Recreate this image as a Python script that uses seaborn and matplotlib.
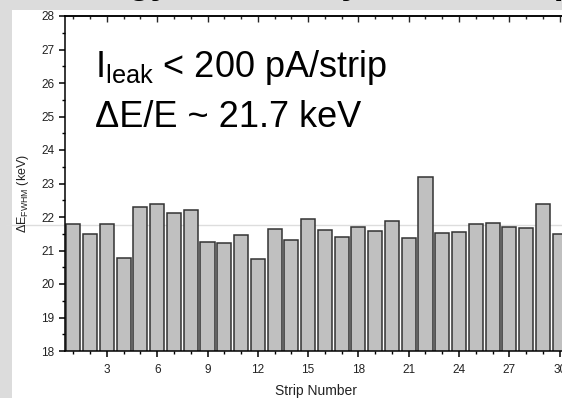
import matplotlib

matplotlib.use("Agg")
import matplotlib.pyplot as plt
import numpy as np
import pandas as pd
import seaborn as sns
from matplotlib.patches import Rectangle
from matplotlib.ticker import MultipleLocator

# strip-by-strip energy resolution (keV)
strips = list(range(1, 31))
fwhm_kev = [
    21.78, 21.50, 21.78, 20.79, 22.31, 22.38, 22.13, 22.22, 21.24, 21.21,
    21.45, 20.76, 21.63, 21.30, 21.93, 21.61, 21.39, 21.70, 21.57, 21.88,
    21.36, 23.19, 21.52, 21.56, 21.78, 21.81, 21.70, 21.68, 22.38, 21.48,
]
mean_level = 21.76
x_ticks = [3, 6, 9, 12, 15, 18, 21, 24, 27, 30]
annotation_lines = [r"I$_{\rm leak}$ < 200 pA/strip", "ΔE/E ~ 21.7 keV"]
slide_title = "Energy Uniformity across strips"

sns.set_theme(style="ticks")
plt.rcParams["font.family"] = ["Liberation Sans", "DejaVu Sans"]
plt.rcParams["mathtext.fontset"] = "custom"
plt.rcParams["mathtext.rm"] = "Liberation Sans"
plt.rcParams["mathtext.it"] = "Liberation Sans:italic"

df = pd.DataFrame({"strip": strips, "fwhm": fwhm_kev})

fig = plt.figure(figsize=(5.62, 3.98), dpi=100, facecolor="#dcdcdc")
# white slide panel
fig.patches.append(
    Rectangle((12 / 562, 0), 1, 1 - 10 / 398, transform=fig.transFigure,
              facecolor="white", edgecolor="none", zorder=-5)
)
# clipped slide title, only its descenders show
fig.text(1.06, 1 + 7 / 398, slide_title, ha="right", va="baseline",
         fontsize=26, fontweight="bold", color="black", zorder=-6)

ax = fig.add_axes([65 / 562, 47 / 398, 503 / 562, 335 / 398])
ax.set_facecolor("none")

ax.axhline(mean_level, xmin=-0.12, xmax=1.05, color="#dddddd", lw=1,
           clip_on=False, zorder=0)

sns.barplot(data=df, x="strip", y="fwhm", native_scale=True, width=0.84,
            color="#c0c0c0", saturation=1, edgecolor="#333333",
            linewidth=1.1, ax=ax, zorder=2)

ax.set_xlim(0.5, 30.5)
ax.set_ylim(18, 28)
ax.set_xticks(x_ticks)
ax.xaxis.set_minor_locator(MultipleLocator(1))
ax.yaxis.set_major_locator(MultipleLocator(1))
ax.yaxis.set_minor_locator(MultipleLocator(0.5))
ax.tick_params(axis="both", which="major", direction="out", length=4.5,
               width=1.1, color="black", labelsize=8.5, labelcolor="#222222", pad=3)
ax.tick_params(axis="x", which="major", pad=5)
ax.tick_params(axis="both", which="minor", direction="out", length=2.5,
               width=1.0, color="black")
for side in ["left", "bottom", "top"]:
    ax.spines[side].set_linewidth(1.1)
    ax.spines[side].set_color("black")
ax.spines["right"].set_visible(False)

top = ax.secondary_xaxis("top")
top.set_xticks(x_ticks)
top.xaxis.set_minor_locator(MultipleLocator(1))
top.tick_params(which="major", direction="in", length=4, width=1.0, labeltop=False)
top.tick_params(which="minor", direction="in", length=2.5, width=1.0)

ax.set_xlabel("Strip Number", fontsize=10, color="#222222")
ax.xaxis.set_label_coords(0.5, -0.098)
ax.set_ylabel(r"ΔE$_{\rm FWHM}$ (keV)", fontsize=9, color="#222222")
ax.yaxis.set_label_coords(-0.068, 0.47)

ax.text(0.06, 0.818, annotation_lines[0], transform=ax.transAxes,
        fontsize=26, color="black", va="baseline", ha="left")
ax.text(0.06, 0.669, annotation_lines[1], transform=ax.transAxes,
        fontsize=26, color="black", va="baseline", ha="left")

fig.savefig("out.png", dpi=100, facecolor=fig.get_facecolor())
